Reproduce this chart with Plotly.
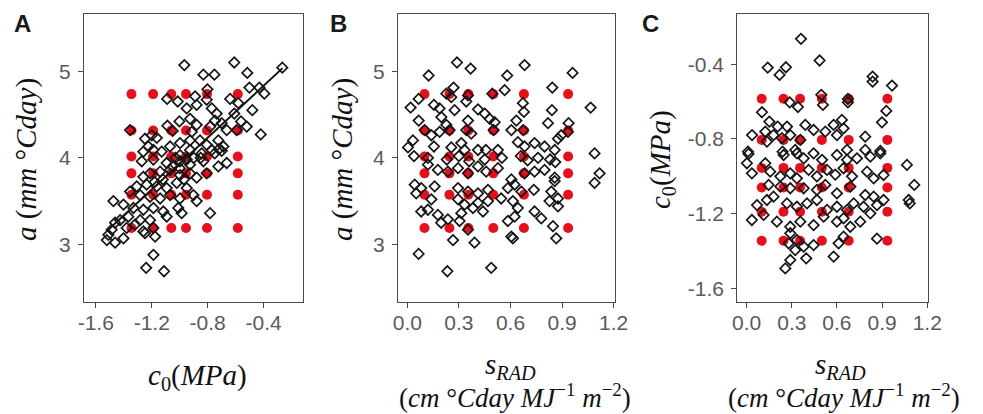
import plotly.graph_objects as go
import itertools

# ---------------- data ----------------
# design levels (red grid points)
a_levels = [3.19, 3.573, 3.82, 4.015, 4.315, 4.735]
c0_levels = [-1.345, -1.19, -1.06, -0.955, -0.805, -0.585]
srad_levels = [0.10, 0.245, 0.355, 0.50, 0.678, 0.935]

# Panel A: sampled c0 vs a
A_c0 = [-0.967, -0.610, -0.517, -0.831, -0.752, -0.267, -0.802, -0.502, -0.431, -0.395,
        -1.090, -1.014, -0.890, -0.950, -0.879, -0.807, -0.771, -0.736, -0.748, -0.783,
        -0.640, -0.581, -0.610, -0.481, -0.562, -0.421, -1.088, -1.002, -1.050, -0.926,
        -0.879, -0.914, -0.700, -0.664, -0.593, -0.521, -1.355, -1.248, -1.200, -1.164,
        -1.224, -1.260, -1.188, -1.129, -1.069, -0.998, -0.926, -0.855, -0.807, -0.724,
        -0.688, -0.771, -0.843, -0.926, -0.998,
        -1.271, -1.188, -1.093, -0.998, -0.926, -0.831, -0.724, -0.664, -1.260, -1.212,
        -1.140, -1.069, -0.998, -0.926, -0.879, -0.807, -1.307, -1.236, -1.164, -1.093,
        -1.021, -0.950, -1.355, -1.283, -1.212, -1.140, -1.069, -0.998, -0.902, -0.879,
        -1.474, -1.402, -1.331, -1.260, -1.188, -1.117, -1.010, -0.986, -0.783, -1.426,
        -1.367, -1.283, -1.212, -1.093, -1.462, -1.319, -1.486, -1.379, -1.260, -1.188,
        -1.510, -1.521, -1.462, -1.402, -1.248, -1.176, -1.188, -1.240, -1.112,
        -1.05, -1.00, -0.95, -0.90, -1.12, -1.18, -0.97, -0.85, -0.75, -0.72, -0.70, -1.03]
A_a = [5.07, 5.10, 4.98, 4.96, 4.96, 5.04, 4.79, 4.81, 4.81, 4.74,
       4.68, 4.65, 4.71, 4.57, 4.61, 4.67, 4.57, 4.51, 4.43, 4.36,
       4.68, 4.63, 4.51, 4.55, 4.42, 4.27, 4.37, 4.42, 4.31, 4.45,
       4.38, 4.30, 4.40, 4.32, 4.32, 4.36, 4.32, 4.22, 4.26, 4.23,
       4.13, 4.07, 4.09, 4.07, 4.13, 4.17, 4.20, 4.20, 4.15, 4.20,
       4.13, 4.09, 4.05, 4.09, 4.03,
       3.96, 3.98, 3.94, 3.96, 3.92, 3.96, 3.90, 3.94, 3.78, 3.82,
       3.84, 3.86, 3.80, 3.82, 3.77, 3.82, 3.67, 3.69, 3.67, 3.65,
       3.71, 3.65, 3.61, 3.57, 3.55, 3.53, 3.57, 3.53, 3.57, 3.50,
       3.50, 3.46, 3.42, 3.40, 3.42, 3.38, 3.42, 3.36, 3.36, 3.28,
       3.32, 3.28, 3.28, 3.32, 3.25, 3.23, 3.17, 3.19, 3.15, 3.19,
       3.11, 3.05, 3.02, 3.07, 3.13, 3.09, 2.88, 2.73, 2.69,
       3.90, 3.88, 3.98, 4.00, 3.75, 3.72, 3.75, 4.00, 4.05, 4.10, 4.08, 4.00]

# regression line in panel A
fit_c0 = [-1.51, -0.265]
fit_a = [3.17, 5.035]

# Panel B: sampled s_RAD vs a
B_s = [0.289, 0.368, 0.124, 0.682, 0.581, 0.961, 0.269, 0.227, 0.256, 0.353,
       0.343, 0.494, 0.566, 0.843, 0.066, 0.019, 0.155, 0.188, 0.275, 0.411,
       0.450, 0.479, 0.508, 0.502, 0.672, 0.678, 0.634, 0.841, 1.066, 0.066,
       0.198, 0.227, 0.353, 0.343, 0.101, 0.246, 0.140, 0.188, 0.372, 0.605,
       0.674, 0.818, 0.938, 0.934, 0.895, 0.876, 0.033, 0.004, 0.039, 0.155,
       0.256, 0.314, 0.333, 0.411, 0.457, 0.527, 0.643, 0.682, 0.740, 0.798,
       0.857, 1.089,
       0.120, 0.178, 0.236, 0.295, 0.353, 0.411, 0.459, 0.527, 0.605, 0.624,
       0.682, 0.740, 0.798, 0.857, 0.857, 1.118, 1.089, 0.081, 0.159, 0.295,
       0.353, 0.411, 0.469, 0.585, 0.663, 0.736, 0.837, 0.876, 0.140, 0.295,
       0.333, 0.411, 0.469, 0.546, 0.614, 0.643, 0.740, 0.779, 0.827, 0.876,
       0.081, 0.120, 0.178, 0.314, 0.236, 0.304, 0.197, 0.585, 0.624, 0.353,
       0.266, 0.391, 0.605, 0.614, 0.847, 0.866, 0.066, 0.233, 0.488, 0.043,
       0.052, 0.440, 0.382,
       0.12, 0.23, 0.30, 0.36, 0.45, 0.55, 0.66, 0.70, 0.76, 0.83, 0.86]
B_a = [5.10, 5.03, 4.95, 5.07, 4.95, 4.98, 4.81, 4.74, 4.70, 4.72,
       4.65, 4.74, 4.78, 4.81, 4.68, 4.58, 4.61, 4.57, 4.55, 4.56,
       4.51, 4.45, 4.41, 4.32, 4.63, 4.53, 4.43, 4.55, 4.58, 4.43,
       4.47, 4.38, 4.43, 4.32, 4.32, 4.32, 4.26, 4.30, 4.28, 4.32,
       4.32, 4.40, 4.40, 4.30, 4.26, 4.22, 4.20, 4.12, 4.02, 4.13,
       4.12, 4.17, 4.09, 4.09, 4.09, 4.09, 4.18, 4.13, 4.17, 4.13,
       4.09, 4.05,
       3.92, 3.86, 3.84, 3.88, 3.82, 3.90, 3.84, 3.88, 3.75, 3.69,
       3.82, 3.84, 3.86, 3.77, 3.73, 3.82, 3.71, 3.65, 3.67, 3.65,
       3.61, 3.59, 3.63, 3.65, 3.61, 3.63, 3.61, 3.53, 3.52, 3.52,
       3.46, 3.48, 3.50, 3.53, 3.50, 3.42, 3.38, 3.30, 3.50, 3.44,
       3.38, 3.40, 3.34, 3.36, 3.29, 3.27, 3.25, 3.27, 3.32, 3.17,
       3.05, 3.02, 3.09, 3.07, 3.21, 3.07, 2.89, 2.69, 2.73, 3.69,
       3.59, 3.38, 3.42,
       4.00, 3.98, 4.02, 3.96, 3.98, 4.00, 4.02, 3.97, 4.00, 3.98, 3.95]

# Panel C: sampled s_RAD vs c0
C_s = [0.361, 0.485, 0.140, 0.219, 0.261, 0.837, 0.837, 0.966, 0.496, 0.507,
       0.673, 0.673, 0.286, 0.341, 0.928, 0.102, 0.899, 0.151, 0.206, 0.268,
       0.390, 0.445, 0.523, 0.578, 0.633, 0.644, 0.600, 0.124, 0.036, 0.179,
       0.235, 0.290, 0.357, 0.788, 0.135, 0.009, 0.239, 0.323, 0.667, 0.788,
       0.888,
       0.013, 0.002, 0.124, 0.246, 0.334, 0.379, 0.445, 0.501, 0.600, 0.667,
       0.733, 0.822, 0.888, 1.065, 0.035, 0.157, 0.224, 0.290, 0.334, 0.412,
       0.467, 0.534, 0.589, 0.644, 0.700, 0.800, 0.844, 0.910, 1.114, 1.077,
       1.084, 0.146, 0.224, 0.290, 0.379, 0.467, 0.523, 0.600, 0.689, 0.788,
       0.844, 0.910, 0.866, 0.069, 0.135, 0.179, 0.268, 0.334, 0.401, 0.467,
       0.534, 0.600, 0.667, 0.711, 0.777, 0.822, 0.035, 0.113, 0.201, 0.290,
       0.357, 0.445, 0.512, 0.600, 0.644, 0.689, 0.755, 0.866, 0.290, 0.334,
       0.379, 0.445, 0.578, 0.611, 0.644, 0.290, 0.257, 0.396, 0.279, 0.323]
C_c0 = [-0.264, -0.380, -0.418, -0.457, -0.416, -0.466, -0.493, -0.514, -0.564, -0.618,
        -0.586, -0.604, -0.604, -0.629, -0.650, -0.657, -0.711, -0.707, -0.734, -0.734,
        -0.725, -0.752, -0.761, -0.725, -0.698, -0.743, -0.779, -0.761, -0.779, -0.779,
        -0.796, -0.779, -0.805, -0.788, -0.814, -0.868, -0.868, -0.859, -0.859, -0.859,
        -0.864,
        -0.880, -0.930, -0.930, -0.886, -0.877, -0.904, -0.877, -0.912, -0.886, -0.912,
        -0.904, -0.895, -0.877, -0.939, -0.984, -0.975, -1.000, -0.984, -1.011, -0.966,
        -1.000, -0.966, -0.991, -0.957, -1.000, -0.975, -1.011, -0.993, -1.046, -1.127,
        -1.145, -1.046, -1.055, -1.064, -1.064, -1.073, -1.046, -1.091, -1.055, -1.100,
        -1.109, -1.127, -1.154, -1.154, -1.127, -1.109, -1.145, -1.163, -1.145, -1.127,
        -1.180, -1.163, -1.180, -1.145, -1.163, -1.198, -1.234, -1.207, -1.243, -1.270,
        -1.243, -1.261, -1.216, -1.243, -1.225, -1.270, -1.243, -1.334, -1.305, -1.341,
        -1.377, -1.368, -1.430, -1.359, -1.323, -1.448, -1.493, -1.439, -1.359, -1.395]

A_xticks = [-1.6, -1.2, -0.8, -0.4]
A_yticks = [3, 4, 5]
S_ticks = [0.0, 0.3, 0.6, 0.9, 1.2]
C_yticks = [-1.6, -1.2, -0.8, -0.4]

# ---------------- figure ----------------
W, H = 983, 414
fig = go.Figure()

red = "#e5101c"
blk = "#151515"

def grid(xs, ys):
    pts = list(itertools.product(xs, ys))
    return [p[0] for p in pts], [p[1] for p in pts]

def add_panel(n, gx, gy, px, py):
    xa = "x" if n == 1 else f"x{n}"
    ya = "y" if n == 1 else f"y{n}"
    fig.add_trace(go.Scatter(x=gx, y=gy, mode="markers", xaxis=xa, yaxis=ya,
                             marker=dict(symbol="circle", size=10, color=red, line=dict(width=0)),
                             showlegend=False, hoverinfo="skip"))
    fig.add_trace(go.Scatter(x=px, y=py, mode="markers", xaxis=xa, yaxis=ya,
                             marker=dict(symbol="diamond-open", size=8, color=blk,
                                         line=dict(width=1.7, color=blk)),
                             showlegend=False))

gx, gy = grid(c0_levels, a_levels)
add_panel(1, gx, gy, A_c0, A_a)
fig.add_trace(go.Scatter(x=fit_c0, y=fit_a, mode="lines", xaxis="x", yaxis="y",
                         line=dict(color=blk, width=2), showlegend=False))
gx, gy = grid(srad_levels, a_levels)
add_panel(2, gx, gy, B_s, B_a)
gx, gy = grid(srad_levels, c0_levels)
add_panel(3, gx, gy, C_s, C_c0)

def px2x(p):
    return p / W

def px2y(p):
    return 1 - p / H

tickfont = dict(family="Arial, Liberation Sans, sans-serif", size=21, color="#5a5a5a")
axcommon = dict(showline=True, mirror=True, linecolor="#4a4a4a", linewidth=1.3,
                ticks="outside", ticklen=5, tickwidth=1.3, tickcolor="#4a4a4a",
                showgrid=False, zeroline=False, tickfont=tickfont, fixedrange=True,
                automargin=False)

ytop, ybot = 14, 302
ydom = [px2y(ybot), px2y(ytop)]

fig.update_layout(
    width=W, height=H,
    margin=dict(l=0, r=0, t=0, b=0, autoexpand=False),
    paper_bgcolor="white", plot_bgcolor="white",
    xaxis=dict(domain=[px2x(84), px2x(303)], range=[-1.684, -0.119], tickvals=A_xticks,
               ticktext=[f"{v:.1f}" for v in A_xticks], anchor="y", ticklabelstandoff=-3, **axcommon),
    yaxis=dict(domain=ydom, range=[2.335, 5.66], tickvals=A_yticks, anchor="x", ticklabelstandoff=3, **axcommon),
    xaxis2=dict(domain=[px2x(398), px2x(615)], range=[-0.054, 1.2076], tickvals=S_ticks,
                ticktext=[f"{v:.1f}" for v in S_ticks], anchor="y2", ticklabelstandoff=-3, **axcommon),
    yaxis2=dict(domain=ydom, range=[2.335, 5.66], tickvals=A_yticks, anchor="x2", ticklabelstandoff=3, **axcommon),
    xaxis3=dict(domain=[px2x(737.3), px2x(928.3)], range=[-0.062, 1.207], tickvals=S_ticks,
                ticktext=[f"{v:.1f}" for v in S_ticks], anchor="y3", ticklabelstandoff=-3, **axcommon),
    yaxis3=dict(domain=ydom, range=[-1.673, -0.131], tickvals=C_yticks,
                ticktext=[f"{v:.1f}" for v in C_yticks], anchor="x3", ticklabelstandoff=3, **axcommon),
)

serif = dict(family="Liberation Serif, DejaVu Serif, serif", size=29, color="#111111")
serif2 = dict(family="Liberation Serif, DejaVu Serif, serif", size=27, color="#111111")
lab = dict(family="Arial, Liberation Sans, sans-serif", size=24, color="#1a1a1a")

a_title = "<i>a</i> (<i>mm</i> °<i>Cday</i>)"
c0_title = "<i>c</i><sub>0</sub>(<i>MPa</i>)"
s_title1 = "<i>s<sub>RAD</sub></i>"
s_title2 = "(<i>cm</i> °<i>Cday MJ</i><sup>−1</sup> <i>m</i><sup>−2</sup>)"

def ann(text, x, y, font, angle=0, yanchor="middle"):
    fig.add_annotation(text=text, x=px2x(x), y=px2y(y), xref="paper", yref="paper",
                       xanchor="center", yanchor=yanchor, showarrow=False,
                       textangle=angle, font=font, borderpad=0)

# panel letters
ann("<b>A</b>", 22, 23, lab)
ann("<b>B</b>", 338, 23, lab)
ann("<b>C</b>", 650, 23, lab)

# y titles
ann(a_title, 27, 160, serif, -90)
ann(a_title, 343, 160, serif, -90)
ann(c0_title, 662, 160, serif, -90)

# x titles
ann(c0_title, 197, 377, serif)
ann(s_title1, 510, 366, serif)
ann(s_title2, 515, 396, serif2)
ann(s_title1, 840, 366, serif)
ann(s_title2, 844, 396, serif2)

fig.write_html("out.html", config={"displayModeBar": False},
               post_script="document.body.style.margin='0px';document.body.style.overflow='hidden';")
